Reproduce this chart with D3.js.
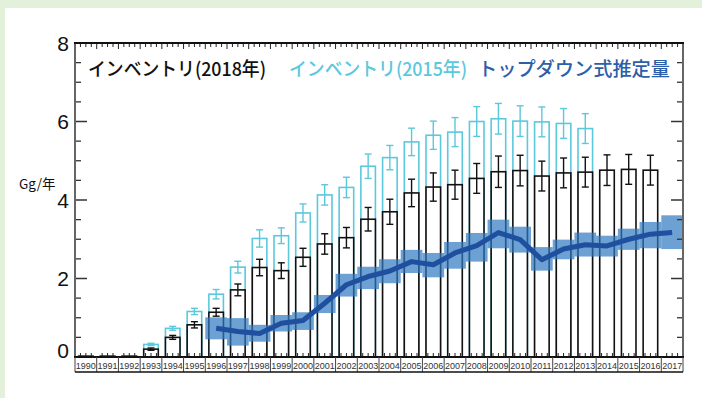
<!DOCTYPE html>
<html>
<head>
<meta charset="utf-8">
<script src="https://cdn.jsdelivr.net/npm/d3@7"></script>
<style>
  html, body { margin: 0; padding: 0; background: #e4f1da; }
  svg { display: block; }
</style>
</head>
<body>
<div id="chart"></div>
<script>
// years on the x axis
const years = d3.range(1990, 2018).map(String);

// inventory (2018 edition), Gg/year, with error
const inv2018 = [0.02, 0.02, 0.02, 0.20, 0.50, 0.82, 1.14, 1.71, 2.28, 2.20, 2.54, 2.88, 3.04, 3.51,
                 3.70, 4.18, 4.33, 4.39, 4.55, 4.72, 4.75, 4.61, 4.69, 4.71, 4.76, 4.78, 4.76, null];
const inv2018Err = [0, 0, 0, 0.03, 0.05, 0.08, 0.10, 0.15, 0.21, 0.20, 0.23, 0.26, 0.26, 0.30,
                    0.32, 0.35, 0.36, 0.37, 0.38, 0.40, 0.39, 0.38, 0.38, 0.38, 0.39, 0.38, 0.38, null];

// inventory (2015 edition)
const inv2015 = [0.02, 0.02, 0.02, 0.32, 0.73, 1.16, 1.60, 2.29, 3.02, 3.09, 3.67, 4.13, 4.32, 4.86,
                 5.08, 5.48, 5.65, 5.73, 6.00, 6.07, 6.01, 5.99, 5.95, 5.82, null, null, null, null];
const inv2015Err = [0, 0, 0, 0.03, 0.05, 0.08, 0.12, 0.15, 0.22, 0.20, 0.23, 0.26, 0.26, 0.31,
                    0.31, 0.35, 0.36, 0.37, 0.38, 0.39, 0.39, 0.38, 0.38, 0.38, null, null, null, null];

// top-down estimate
const tdYears = d3.range(1996, 2018).map(String);
const tdMean = [0.73, 0.65, 0.60, 0.86, 0.93, 1.37, 1.84, 2.05, 2.19, 2.43, 2.35, 2.65, 2.84, 3.17,
                2.99, 2.48, 2.75, 2.86, 2.83, 3.00, 3.13, 3.17];
const tdLow = [0.45, 0.29, 0.39, 0.65, 0.69, 1.12, 1.54, 1.73, 1.88, 2.14, 2.03, 2.25, 2.43, 2.77,
               2.66, 2.20, 2.49, 2.56, 2.56, 2.73, 2.77, 2.75];
const tdHigh = [1.01, 0.99, 0.82, 1.07, 1.14, 1.58, 2.12, 2.30, 2.49, 2.73, 2.65, 2.93, 3.16, 3.50,
                3.32, 2.80, 2.99, 3.17, 3.09, 3.27, 3.44, 3.61];

const yTicks = [0, 2, 4, 6, 8];
const legendLabels = ["インベントリ(2018年)", "インベントリ(2015年)", "トップダウン式推定量"];
const yLabel = "Gg/年";

const width = 702, height = 398;
const L = 75, R = 683, T = 43, B = 357;
const cyan = "#5cc8dc", navy = "#1f4f9f";

const svg = d3.select("#chart").append("svg")
    .attr("width", width).attr("height", height);

svg.append("rect").attr("x", 5).attr("y", 8)
    .attr("width", width - 5).attr("height", height - 8).attr("fill", "#fff");

const x = d3.scaleBand().domain(years).range([L, R]);
const y = d3.scaleLinear().domain([0, 8]).range([B, T]);
const bw = x.bandwidth() * 0.67;
const cx = d => x(d) + x.bandwidth() / 2;

const toRows = (vals, errs) => years.map((yr, i) => ({yr, v: vals[i], e: errs[i]})).filter(d => d.v != null);
const rows2015 = toRows(inv2015, inv2015Err);
const rows2018 = toRows(inv2018, inv2018Err);

function drawBars(rows, color) {
  const g = svg.append("g");
  g.selectAll("rect").data(rows).enter().append("rect")
      .attr("x", d => cx(d.yr) - bw / 2)
      .attr("y", d => y(d.v))
      .attr("width", bw)
      .attr("height", d => B - y(d.v))
      .attr("fill", "#fff")
      .attr("stroke", color)
      .attr("stroke-width", 1.6);
  const eb = g.selectAll("g.err").data(rows.filter(d => d.e > 0)).enter().append("g")
      .attr("stroke", color).attr("stroke-width", 1.4);
  eb.append("line").attr("x1", d => cx(d.yr)).attr("x2", d => cx(d.yr))
      .attr("y1", d => y(d.v - d.e)).attr("y2", d => y(d.v + d.e));
  eb.append("line").attr("x1", d => cx(d.yr) - 3.5).attr("x2", d => cx(d.yr) + 3.5)
      .attr("y1", d => y(d.v + d.e)).attr("y2", d => y(d.v + d.e));
  eb.append("line").attr("x1", d => cx(d.yr) - 3.5).attr("x2", d => cx(d.yr) + 3.5)
      .attr("y1", d => y(d.v - d.e)).attr("y2", d => y(d.v - d.e));
}

drawBars(rows2015, cyan);
drawBars(rows2018, "#111");

// top-down band and line
const td = tdYears.map((yr, i) => ({yr, m: tdMean[i], lo: tdLow[i], hi: tdHigh[i]}));
svg.append("g").selectAll("rect").data(td).enter().append("rect")
    .attr("x", d => x(d.yr))
    .attr("y", d => y(d.hi))
    .attr("width", x.bandwidth())
    .attr("height", d => y(d.lo) - y(d.hi))
    .attr("fill", "#2f78c0")
    .attr("fill-opacity", 0.7);

svg.append("path").datum(td)
    .attr("fill", "none")
    .attr("stroke", navy)
    .attr("stroke-width", 5)
    .attr("stroke-linejoin", "round")
    .attr("d", d3.line().x(d => cx(d.yr)).y(d => y(d.m)));

// axes: left/right with inward ticks
const minorY = d3.range(0, 8.01, 0.5).filter(v => v % 2 !== 0);
const axes = svg.append("g");
yTicks.forEach(v => {
  axes.append("line").attr("x1", L).attr("x2", L + 12).attr("y1", y(v)).attr("y2", y(v))
      .attr("stroke", "#333").attr("stroke-width", 1.5);
  axes.append("line").attr("x1", R).attr("x2", R - 12).attr("y1", y(v)).attr("y2", y(v))
      .attr("stroke", "#333").attr("stroke-width", 1.5);
});
minorY.forEach(v => {
  axes.append("line").attr("x1", L).attr("x2", L + 6).attr("y1", y(v)).attr("y2", y(v))
      .attr("stroke", "#333").attr("stroke-width", 1.3);
  axes.append("line").attr("x1", R).attr("x2", R - 6).attr("y1", y(v)).attr("y2", y(v))
      .attr("stroke", "#333").attr("stroke-width", 1.3);
});
// quarter-year minor ticks along top and bottom
const step = x.step();
years.forEach(yr => {
  [0.25, 0.5, 0.75].forEach(f => {
    const xx = x(yr) + step * f;
    axes.append("line").attr("x1", xx).attr("x2", xx).attr("y1", T).attr("y2", T + 4)
        .attr("stroke", "#222").attr("stroke-width", 1);
    axes.append("line").attr("x1", xx).attr("x2", xx).attr("y1", B).attr("y2", B - 4)
        .attr("stroke", "#222").attr("stroke-width", 1);
  });
  const x0 = x(yr);
  axes.append("line").attr("x1", x0).attr("x2", x0).attr("y1", T).attr("y2", T + 6)
      .attr("stroke", "#222").attr("stroke-width", 1);
});

axes.append("line").attr("x1", L).attr("x2", L).attr("y1", T).attr("y2", B)
    .attr("stroke", "#666").attr("stroke-width", 2);
axes.append("line").attr("x1", R).attr("x2", R).attr("y1", T).attr("y2", B)
    .attr("stroke", "#666").attr("stroke-width", 2);
axes.append("line").attr("x1", L - 1).attr("x2", R + 1).attr("y1", T).attr("y2", T)
    .attr("stroke", "#111").attr("stroke-width", 2);
axes.append("line").attr("x1", L - 1).attr("x2", R + 1).attr("y1", B).attr("y2", B)
    .attr("stroke", "#111").attr("stroke-width", 2);

// year label cells
const cellH = 15;
const cells = svg.append("g");
cells.selectAll("line").data(years.concat(["end"])).enter().append("line")
    .attr("x1", (d, i) => L + i * step).attr("x2", (d, i) => L + i * step)
    .attr("y1", B).attr("y2", B + cellH)
    .attr("stroke", "#444").attr("stroke-width", 1);
cells.append("line").attr("x1", L).attr("x2", R).attr("y1", B + cellH).attr("y2", B + cellH)
    .attr("stroke", "#111").attr("stroke-width", 1.5);
cells.selectAll("text").data(years).enter().append("text")
    .attr("x", d => cx(d)).attr("y", B + 11.5)
    .attr("text-anchor", "middle")
    .attr("font-family", "Liberation Sans, Arial, sans-serif")
    .attr("font-size", 9)
    .attr("fill", "#333")
    .text(d => d);

// y tick labels
svg.append("g").selectAll("text").data(yTicks).enter().append("text")
    .attr("x", 69).attr("y", d => y(d) + (d === 0 ? 1 : 7.5))
    .attr("text-anchor", "end")
    .attr("font-family", "Liberation Sans, Arial, sans-serif")
    .attr("font-size", 21)
    .attr("fill", "#111")
    .text(d => d);

svg.append("text").attr("x", 19).attr("y", 189)
    .attr("font-family", "Noto Sans CJK JP, sans-serif")
    .attr("font-size", 13.5)
    .attr("fill", "#111")
    .text(yLabel);

// legend
const legendPos = [{x: 88, w: 178, c: "#111"}, {x: 289, w: 178, c: cyan}, {x: 478, w: 192, c: "#2d5ea8"}];
svg.append("g").selectAll("text").data(legendLabels).enter().append("text")
    .attr("x", (d, i) => legendPos[i].x).attr("y", 76)
    .attr("font-family", "Noto Sans CJK JP, sans-serif")
    .attr("font-size", 19)
    .attr("font-weight", 500)
    .attr("textLength", (d, i) => legendPos[i].w)
    .attr("lengthAdjust", "spacingAndGlyphs")
    .attr("fill", (d, i) => legendPos[i].c)
    .text(d => d);
</script>
</body>
</html>
